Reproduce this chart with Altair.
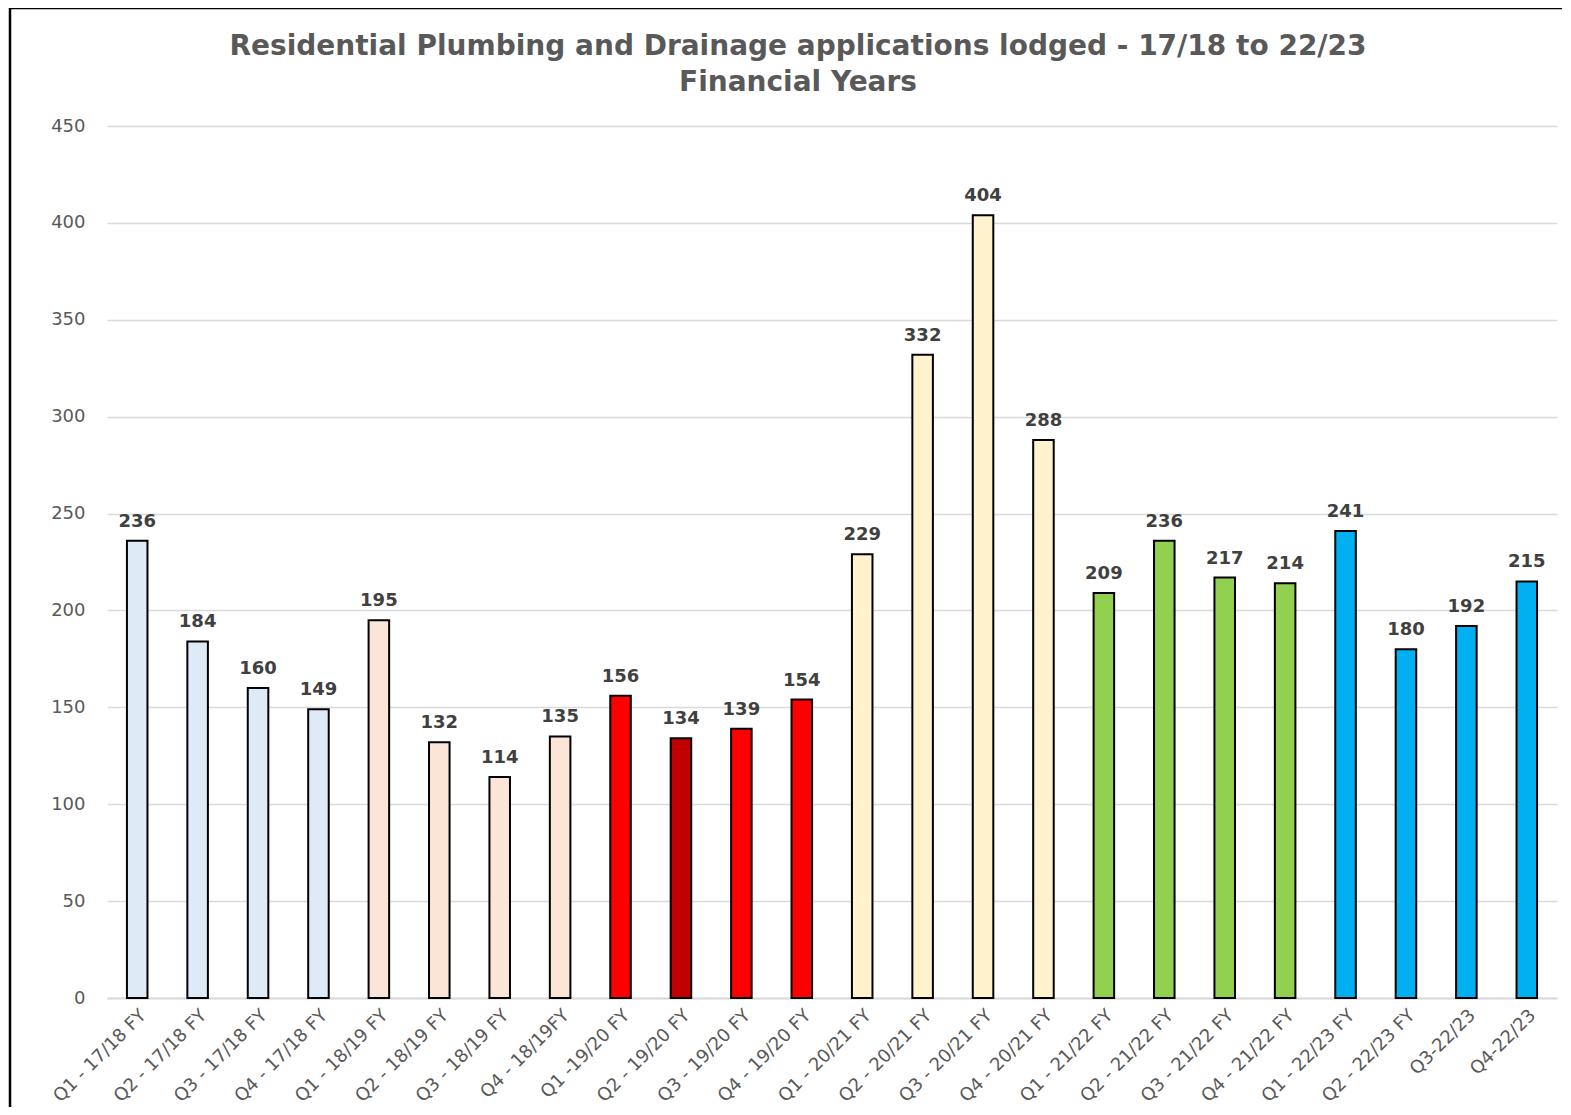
import altair as alt
import pandas as pd

categories = [
    "Q1 - 17/18 FY", "Q2 - 17/18 FY", "Q3 - 17/18 FY", "Q4 - 17/18 FY",
    "Q1 - 18/19 FY", "Q2 - 18/19 FY", "Q3 - 18/19 FY", "Q4 - 18/19FY",
    "Q1 -19/20 FY", "Q2 - 19/20 FY", "Q3 - 19/20 FY", "Q4 - 19/20 FY",
    "Q1 - 20/21 FY", "Q2 - 20/21 FY", "Q3 - 20/21 FY", "Q4 - 20/21 FY",
    "Q1 - 21/22 FY", "Q2 - 21/22 FY", "Q3 - 21/22 FY", "Q4 - 21/22 FY",
    "Q1 - 22/23 FY", "Q2 - 22/23 FY", "Q3-22/23", "Q4-22/23",
]
values = [236, 184, 160, 149, 195, 132, 114, 135, 156, 134, 139, 154,
          229, 332, 404, 288, 209, 236, 217, 214, 241, 180, 192, 215]
groups = ["17/18"] * 4 + ["18/19"] * 4 + ["19/20", "19/20 Q2", "19/20", "19/20"] + \
         ["20/21"] * 4 + ["21/22"] * 4 + ["22/23"] * 4

group_domain = ["17/18", "18/19", "19/20", "19/20 Q2", "20/21", "21/22", "22/23"]
group_colors = ["#DEEBF7", "#FBE5D6", "#FF0000", "#C00000", "#FFF2CC", "#92D050", "#00B0F0"]

df = pd.DataFrame({"cat": categories, "val": values, "grp": groups})

FONT = "DejaVu Sans"
GRAY = "#595959"

x = alt.X("cat:N", sort=categories, title=None,
          scale=alt.Scale(paddingInner=0.66, paddingOuter=0.33),
          axis=alt.Axis(labelAngle=-45, labelFontSize=18, labelColor=GRAY, labelFont=FONT,
                        ticks=False, domainColor="#D9D9D9", domainWidth=2, labelPadding=8))
y = alt.Y("val:Q", title=None,
          scale=alt.Scale(domain=[0, 450]),
          axis=alt.Axis(values=list(range(0, 451, 50)), labelFontSize=18, labelColor=GRAY,
                        labelFont=FONT, ticks=False, domain=False, gridColor="#D9D9D9",
                        gridWidth=1.3, labelPadding=22))

base = alt.Chart(df)

bars = base.mark_bar(stroke="black", strokeWidth=2).encode(
    x=x, y=y,
    color=alt.Color("grp:N", scale=alt.Scale(domain=group_domain, range=group_colors), legend=None),
)

labels = base.mark_text(font=FONT, fontSize=18, fontWeight="bold", color="#404040",
                        baseline="alphabetic", dy=-14).encode(
    x=alt.X("cat:N", sort=categories), y="val:Q", text="val:Q")

frame = alt.Chart(pd.DataFrame({"a": [0]})).mark_rect(
    fill=None, stroke="black", strokeWidth=2.5).encode(
    x=alt.value(-97), x2=alt.value(1470), y=alt.value(-118), y2=alt.value(1000))

chart = alt.layer(bars, labels, frame).properties(
    width=1450, height=872,
    autosize=alt.AutoSizeParams(type="none"),
    padding={"left": 99, "top": 118, "right": 5, "bottom": 109},
    title=alt.TitleParams(
        ["Residential Plumbing and Drainage applications lodged - 17/18 to 22/23",
         "Financial Years"],
        font=FONT, fontSize=28, fontWeight="bold", color=GRAY, anchor="middle",
        frame="group", dx=-34, offset=-90, lineHeight=36),
).configure(background="white").configure_view(stroke=None)

chart.save("out.html", embed_options={"renderer": "svg", "actions": False})
